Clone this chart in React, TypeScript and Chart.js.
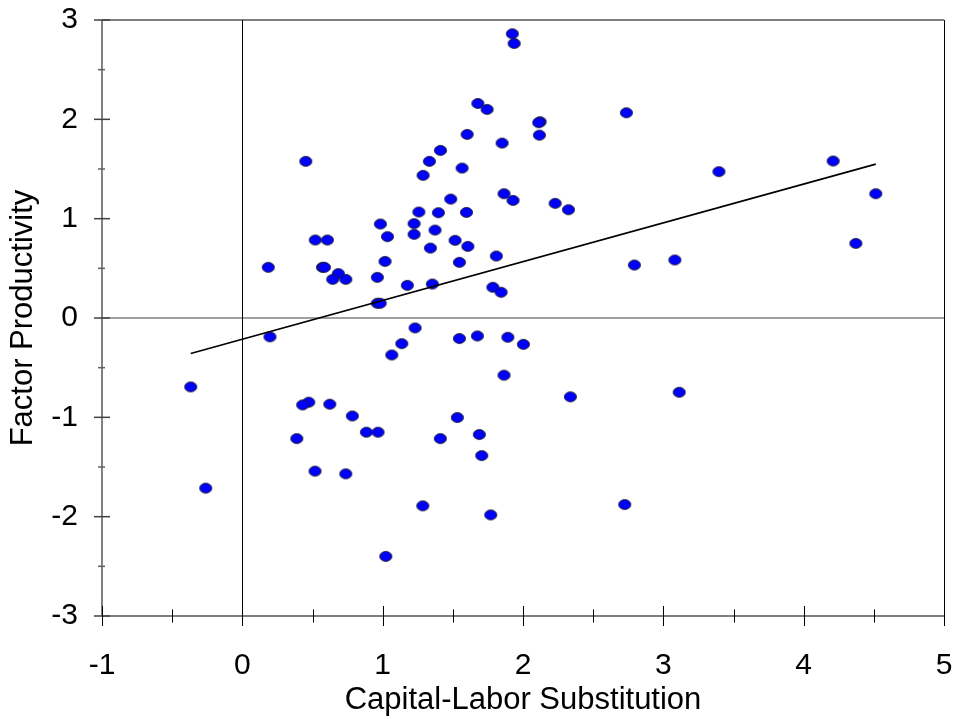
import React, { useEffect, useRef } from "react";
import { Chart, registerables } from "chart.js";

Chart.register(...registerables);

// Capital-Labor Substitution (x) and Factor Productivity (y)
const capitalLabor = [
  0.452, 1.288, 1.258, 1.224, 1.224, 0.984, 1.034, 0.52, 0.606, 0.185,
  0.571, 0.585, 0.684, 0.644, 0.737, 1.017, 0.962, 1.176, 0.962, 0.982,
  1.231, 0.197, -0.368, -0.261, 0.473, 0.43, 0.623, 0.784, 0.884, 0.967,
  0.388, 0.518, 0.737, 1.022, 1.065, 1.136, 1.286, 1.547, 1.675, 1.892,
  2.003, 1.865, 2.338, 3.113, 1.532, 1.411, 1.689, 1.706, 1.77, 2.725,
  1.924, 1.937, 1.678, 1.744, 2.122, 2.112, 2.737, 1.602, 2.117, 1.851,
  1.412, 1.333, 1.566, 3.396, 1.485, 1.865, 1.929, 2.229, 2.324, 1.397,
  1.597, 1.373, 1.516, 1.607, 1.34, 1.547, 1.81, 2.794, 3.082, 1.354,
  1.785, 1.844, 4.21, 4.514, 4.372,
];
const factorProductivity = [
  1.577, 1.436, 1.067, 0.95, 0.842, 0.946, 0.819, 0.785, 0.785, 0.51,
  0.51, 0.51, 0.447, 0.389, 0.389, 0.57, 0.409, 0.329, 0.148, 0.148,
  -0.1, -0.19, -0.694, -1.713, -0.848, -0.875, -0.868, -0.986, -1.15, -1.15,
  -1.214, -1.542, -1.569, -2.4, -0.372, -0.258, -1.891, -0.207, -0.181, -0.194,
  -0.265, -0.576, -0.794, -0.748, -1.002, -1.214, -1.173, -1.385, -1.982, -1.878,
  2.861, 2.764, 2.16, 2.1, 1.976, 1.966, 2.066, 1.848, 1.841, 1.761,
  1.687, 1.577, 1.509, 1.473, 1.197, 1.251, 1.184, 1.154, 1.09, 1.06,
  1.063, 0.885, 0.782, 0.721, 0.704, 0.56, 0.624, 0.533, 0.584, 0.342,
  0.309, 0.259, 1.58, 1.251, 0.751,
];

const xTickValues = [-1, 0, 1, 2, 3, 4, 5];
const yTickValues = [-3, -2, -1, 0, 1, 2, 3];

// fitted regression line
const trendSlope = 0.3906;
const trendIntercept = -0.214;

const FONT = "'Liberation Sans', Arial, Helvetica, sans-serif";

function makeMarker(): HTMLCanvasElement {
  const c = document.createElement("canvas");
  c.width = 15;
  c.height = 13;
  const g = c.getContext("2d")!;
  g.beginPath();
  g.ellipse(7.5, 6.5, 6.0, 4.9, 0, 0, Math.PI * 2);
  g.fillStyle = "#0000ff";
  g.fill();
  g.lineWidth = 1;
  g.strokeStyle = "#1a1a33";
  g.stroke();
  return c;
}

const axesDecor = {
  id: "axesDecor",
  beforeDatasetsDraw(chart: any) {
    const { ctx, scales } = chart;
    const xs = scales.x;
    const ys = scales.y;
    const line = (x1: number, y1: number, x2: number, y2: number, color: string, w: number) => {
      ctx.beginPath();
      ctx.strokeStyle = color;
      ctx.lineWidth = w;
      ctx.moveTo(x1, y1);
      ctx.lineTo(x2, y2);
      ctx.stroke();
    };
    ctx.save();
    const yTop = ys.getPixelForValue(3);
    const yZero = ys.getPixelForValue(0);
    const yBot = ys.getPixelForValue(-3);
    const xLeft = xs.getPixelForValue(-1);
    const xZero = xs.getPixelForValue(0);
    const xRight = xs.getPixelForValue(5);
    // frame and reference lines
    line(xLeft, yTop, xRight, yTop, "#808080", 2);
    line(xLeft, yZero, xRight, yZero, "#808080", 1.5);
    line(xLeft, yBot, xRight, yBot, "#808080", 2);
    line(xLeft, yTop, xLeft, yBot, "#808080", 2);
    line(Math.round(xZero) + 0.5, yTop, Math.round(xZero) + 0.5, yBot, "#000000", 1);
    line(Math.round(xRight) + 0.5, yTop, Math.round(xRight) + 0.5, yBot, "#000000", 1);
    // y ticks
    for (let v = -3; v <= 3.001; v += 0.5) {
      const p = ys.getPixelForValue(v);
      const major = Math.abs(v - Math.round(v)) < 1e-6;
      if (major) line(xLeft - 8, p, xLeft + 8, p, "#404040", 1.5);
      else line(xLeft - 4, p, xLeft + 3, p, "#606060", 1.5);
    }
    // x ticks
    for (let v = -1; v <= 5.001; v += 0.5) {
      const p = Math.round(xs.getPixelForValue(v)) + 0.5;
      const major = Math.abs(v - Math.round(v)) < 1e-6;
      if (major) line(p, yBot - 10, p, yBot + 10, "#000000", 1);
      else line(p, yBot - 6.5, p, yBot + 6.5, "#000000", 1);
    }
    ctx.restore();
  },
};

export default function App() {
  const ref = useRef<HTMLCanvasElement>(null);

  useEffect(() => {
    document.body.style.margin = "0";
    const canvas = ref.current!;
    const points = capitalLabor.map((x, i) => ({ x, y: factorProductivity[i] }));
    const xMin = Math.min(...capitalLabor);
    const xMax = Math.max(...capitalLabor);
    const trend = [
      { x: xMin, y: trendIntercept + trendSlope * xMin },
      { x: xMax, y: trendIntercept + trendSlope * xMax },
    ];
    const marker = makeMarker();

    const chart = new Chart(canvas, {
      type: "scatter",
      data: {
        datasets: [
          {
            type: "line",
            data: trend,
            borderColor: "#000000",
            borderWidth: 1.6,
            pointRadius: 0,
            fill: false,
            order: 0,
          } as any,
          {
            type: "scatter",
            data: points,
            pointStyle: marker,
            pointRadius: 6,
            order: 1,
          } as any,
        ],
      },
      options: {
        animation: false,
        responsive: false,
        devicePixelRatio: 1,
        events: [],
        layout: { padding: { left: 0, top: 20, right: 11, bottom: 0 } },
        plugins: { legend: { display: false }, tooltip: { enabled: false } },
        scales: {
          x: {
            type: "linear",
            min: -1,
            max: 5,
            grid: { display: false, drawTicks: false },
            border: { display: false },
            afterBuildTicks: (s: any) => {
              s.ticks = xTickValues.map((v) => ({ value: v }));
            },
            afterFit: (s: any) => {
              s.height = 103;
              s.paddingLeft = 0;
              s.paddingRight = 0;
              s.paddingTop = 0;
              s.paddingBottom = 0;
            },
            ticks: {
              color: "#000000",
              font: { family: FONT, size: 30 },
              padding: 32,
              maxRotation: 0,
              autoSkip: false,
            },
            title: {
              display: true,
              text: "Capital-Labor Substitution",
              color: "#000000",
              font: { family: FONT, size: 31 },
              padding: { top: 0, bottom: 0 },
            },
          },
          y: {
            type: "linear",
            min: -3,
            max: 3,
            grid: { display: false, drawTicks: false },
            border: { display: false },
            afterBuildTicks: (s: any) => {
              s.ticks = yTickValues.map((v) => ({ value: v }));
            },
            afterFit: (s: any) => {
              s.width = 102;
              s.paddingLeft = 0;
              s.paddingRight = 0;
              s.paddingTop = 0;
              s.paddingBottom = 0;
            },
            ticks: {
              color: "#000000",
              font: { family: FONT, size: 30 },
              padding: 24,
              autoSkip: false,
            },
            title: {
              display: true,
              text: "Factor Productivity",
              color: "#000000",
              font: { family: FONT, size: 31 },
              padding: { top: 5, bottom: 0 },
            },
          },
        },
      },
      plugins: [axesDecor],
    } as any);

    return () => chart.destroy();
  }, []);

  return (
    <div style={{ position: "absolute", left: 0, top: 0, width: 955, height: 719, background: "#ffffff" }}>
      <canvas ref={ref} width={955} height={719} style={{ display: "block" }} />
    </div>
  );
}
